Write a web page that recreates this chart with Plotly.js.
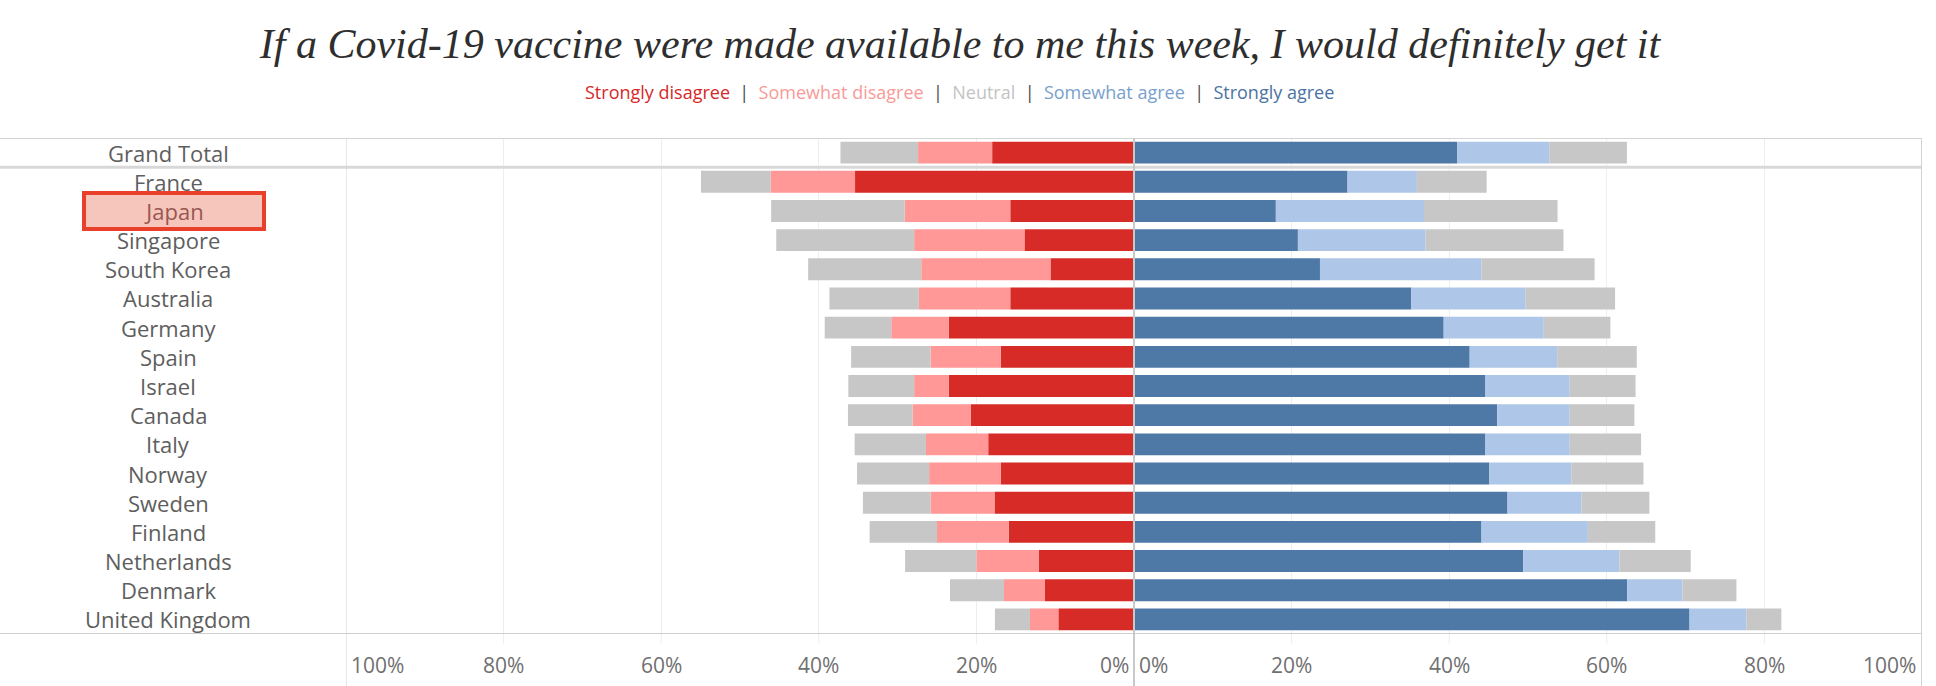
<!DOCTYPE html>
<html>
<head>
<meta charset="utf-8">
<script src="https://cdn.plot.ly/plotly-3.0.1.min.js"></script>
<style>
  html, body { margin: 0; padding: 0; background: #ffffff; }
  #chart { width: 1936px; height: 686px; }
</style>
</head>
<body>
<div id="chart"></div>
<script>
// ---- Data (percent of respondents) ----
const countries = ['Grand Total','France','Japan','Singapore','South Korea','Australia','Germany','Spain','Israel','Canada','Italy','Norway','Sweden','Finland','Netherlands','Denmark','United Kingdom'];
const stronglyDisagree = [18.0, 35.4, 15.7, 13.9, 10.6, 15.7, 23.5, 16.9, 23.5, 20.7, 18.5, 16.9, 17.7, 15.9, 12.1, 11.3, 9.6];
const somewhatDisagree = [9.4, 10.7, 13.4, 14.0, 16.4, 11.6, 7.3, 8.9, 4.4, 7.4, 7.9, 9.1, 8.1, 9.1, 7.9, 5.2, 3.6];
const neutral          = [19.7, 17.7, 33.9, 35.0, 28.7, 22.7, 16.9, 20.2, 16.7, 16.4, 18.1, 18.3, 17.2, 17.1, 18.1, 13.7, 8.9];
const somewhatAgree    = [11.7, 8.8, 18.8, 16.2, 20.5, 14.5, 12.7, 11.1, 10.7, 9.2, 10.7, 10.4, 9.4, 13.5, 12.2, 7.0, 7.2];
const stronglyAgree    = [41.0, 27.1, 18.0, 20.8, 23.6, 35.2, 39.3, 42.6, 44.6, 46.1, 44.6, 45.1, 47.4, 44.1, 49.4, 62.6, 70.5];

const seriesNames = ['Strongly disagree','Somewhat disagree','Neutral','Somewhat agree','Strongly agree'];
const tickPercents = [0, 20, 40, 60, 80, 100];
const highlighted = 'Japan';

// ---- Styling ----
const barColors  = {sd: '#d62b27', swd: '#ff9896', neu: '#c7c7c7', swa: '#aec7e8', sa: '#4e79a7'};
const textColors = ['#d62728', '#f99a98', '#c3c3c3', '#79a1cc', '#4a73a2'];
const sans = '"Open Sans", "Noto Sans", sans-serif';

function bar(name, x, color) {
  return {
    type: 'bar', orientation: 'h', name: name, y: countries, x: x,
    marker: {color: color, line: {width: 0}}, hoverinfo: 'skip', showlegend: false
  };
}

const traces = [
  bar('Strongly disagree', stronglyDisagree.map(v => -v), barColors.sd),
  bar('Somewhat disagree', somewhatDisagree.map(v => -v), barColors.swd),
  bar('Neutral (left half)', neutral.map(v => -v / 2), barColors.neu),
  bar('Strongly agree', stronglyAgree, barColors.sa),
  bar('Somewhat agree', somewhatAgree, barColors.swa),
  bar('Neutral (right half)', neutral.map(v => v / 2), barColors.neu)
];

const W = 1936, H = 686;
const M = {l: 0, r: 14, t: 138, b: 52};
const plotW = W - M.l - M.r;   // 1922
const plotH = H - M.t - M.b;   // 496
const labelColX = 168 / plotW;
const paperBottom = -M.b / plotH;

const shapes = [];
// horizontal frame lines
[[-0.5, 2, '#d4d4d4'], [0.5, 3, '#d8d8d8'], [countries.length - 0.5, 2, '#cfcfcf']].forEach(([yv, w, c]) => {
  shapes.push({type: 'line', xref: 'paper', yref: 'y', x0: 0, x1: 1, y0: yv, y1: yv, line: {color: c, width: w}});
});
// vertical lines: left edge, centre, right edge
[[-100, 1, '#d0d0d0'], [0, 2, '#c9c9c9'], [100, 2, '#d2d2d2']].forEach(([xv, w, c]) => {
  shapes.push({type: 'line', xref: 'x', yref: 'paper', x0: xv, x1: xv, y0: paperBottom, y1: 1, line: {color: c, width: w}});
});
// short gridline stubs below the frame
tickPercents.filter(p => p > 0 && p < 100).forEach(p => {
  [-p, p].forEach(xv => shapes.push({type: 'line', xref: 'x', yref: 'paper', x0: xv, x1: xv, y0: -0.02, y1: 0, line: {color: '#eeeeee', width: 1}}));
});

const annotations = [];
// row labels
countries.forEach(c => {
  const isHi = c === highlighted;
  const a = {
    xref: 'paper', yref: 'y', x: labelColX, y: c, text: c, showarrow: false,
    xanchor: 'center', yanchor: 'middle',
    font: {family: sans, size: 22, color: isHi ? '#985750' : '#5e5e5e'}
  };
  if (isHi) {
    a.bgcolor = '#f6c6bd'; a.bordercolor = '#e8402a'; a.borderwidth = 4; a.borderpad = 0;
    a.width = 176; a.height = 32; a.xshift = 6;
  }
  annotations.push(a);
});
// axis tick labels (left panel reversed, right panel normal)
const tickY = -31 / plotH;
tickPercents.forEach(p => {
  const txt = p + '%';
  annotations.push({
    xref: 'x', yref: 'paper', x: -p, y: tickY, text: txt, showarrow: false, yanchor: 'middle',
    xanchor: p === 100 ? 'left' : (p === 0 ? 'right' : 'center'), xshift: p === 100 ? 3 : (p === 0 ? -3 : 0),
    font: {family: sans, size: 21, color: '#707070'}
  });
  annotations.push({
    xref: 'x', yref: 'paper', x: p, y: tickY, text: txt, showarrow: false, yanchor: 'middle',
    xanchor: p === 0 ? 'left' : (p === 100 ? 'right' : 'center'), xshift: p === 0 ? 3 : (p === 100 ? -4 : 0),
    font: {family: sans, size: 21, color: '#707070'}
  });
});
// colour-coded text legend
const sep = '<span style="color:#4a4a4a">&nbsp;&nbsp;|&nbsp;&nbsp;</span>';
const legendText = seriesNames.map((n, i) => '<span style="color:' + textColors[i] + '">' + n + '</span>').join(sep);
annotations.push({
  xref: 'paper', yref: 'paper', x: 959 / plotW, y: 1 + (M.t - 91.5) / plotH,
  text: legendText, showarrow: false, xanchor: 'center', yanchor: 'middle',
  font: {family: sans, size: 18, color: '#4a4a4a'}
});

const layout = {
  width: W, height: H,
  margin: {l: M.l, r: M.r, t: M.t, b: M.b, pad: 0},
  paper_bgcolor: '#ffffff', plot_bgcolor: '#ffffff',
  barmode: 'relative', bargap: 0.25,
  title: {
    text: 'If a Covid-19 vaccine were made available to me this week, I would definitely get it',
    font: {family: '"Liberation Serif", "DejaVu Serif", serif', size: 42, color: '#2e2e2e', style: 'italic'},
    x: 960 / W, xanchor: 'center', xref: 'container',
    y: 1 - 43 / H, yanchor: 'middle', yref: 'container'
  },
  xaxis: {
    domain: [346 / plotW, 1], range: [-100, 100], fixedrange: true,
    tickmode: 'array', tickvals: [-80, -60, -40, -20, 20, 40, 60, 80],
    showticklabels: false, ticks: '', showgrid: true, gridcolor: '#eeeeee', gridwidth: 1,
    zeroline: false, showline: false
  },
  yaxis: {
    type: 'category', categoryorder: 'array', categoryarray: countries,
    range: [countries.length - 0.5, -0.5], autorange: false, fixedrange: true,
    showticklabels: false, ticks: '', showgrid: false, zeroline: false, showline: false
  },
  shapes: shapes,
  annotations: annotations,
  showlegend: false
};

Plotly.newPlot('chart', traces, layout, {displayModeBar: false, staticPlot: true});
</script>
</body>
</html>
